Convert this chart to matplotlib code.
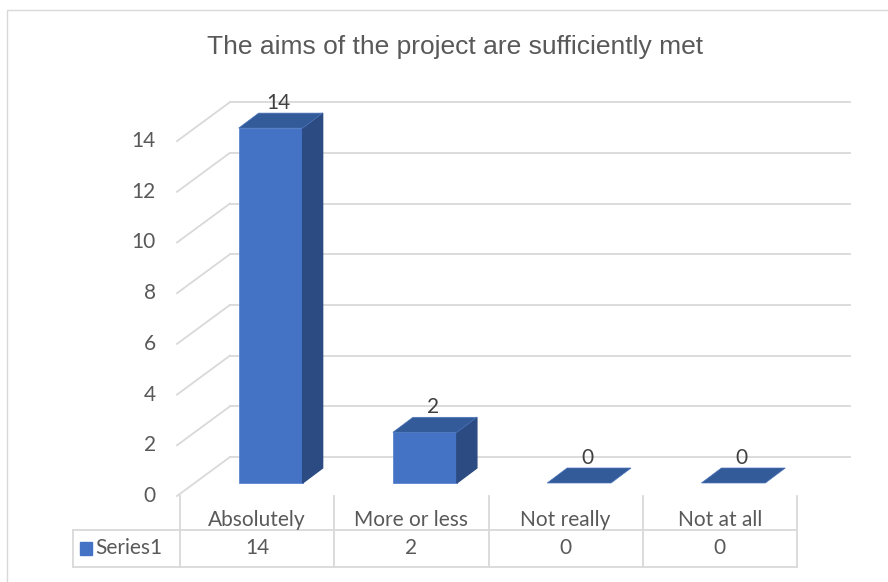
import matplotlib.pyplot as plt
from matplotlib.patches import Rectangle

# ── Data ─────────────────────────────────────────────
categories = ["Absolutely", "More or less", "Not really", "Not at all"]
values = [14, 2, 0, 0]
series_name = "Series1"
y_ticks = [0, 2, 4, 6, 8, 10, 12, 14]
title = "The aims of the project are sufficiently met"

# ── Colours / fonts ──────────────────────────────────
FRONT = "#4472C4"
TOP = "#335A99"
SIDE = "#2B4B82"
GRID = "#D9D9D9"
TXT = "#595959"
LBL = "#404040"
FONT = "Lato"
FS = 15

# ── pixel geometry of the pseudo-3D box (Excel style) ─
W, H = 888, 582
PX = 154.25          # px per category
PY = 25.35           # px per value unit
X0, Y0 = 180, 496    # front plane: left edge, value 0

def dx(p):
    return p / PX

def dy(p):
    return p / PY

WALL_DX, WALL_DY = dx(53), dy(39)     # depth of the walls
BAR_DX, BAR_DY = dx(20), dy(15)       # depth of a bar
BAR_OX, BAR_OY = dx(13.5), dy(13)     # bar front face offset from front plane
BAR_W = dx(64)

fig = plt.figure(figsize=(W / 100, H / 100), dpi=100, facecolor="white")
ax = fig.add_axes([0, 0, 1, 1])
ax.set_xlim(-0.5 - X0 / PX, -0.5 + (W - X0) / PX)
ax.set_ylim(-(H - Y0) / PY, Y0 / PY)
ax.axis("off")

n = len(categories)
left, right = -0.5, n - 0.5

# chart border
ax.add_patch(Rectangle((left - dx(X0 - 7), -(H - Y0) / PY - 1),
                       dx(W), (Y0 - 10) / PY + (H - Y0) / PY + 1,
                       fill=False, ec="#D9D9D9", lw=1, zorder=0))

# gridlines: side wall diagonals + back wall lines
for v in y_ticks:
    ax.plot([left - dx(3), left - dx(3) + WALL_DX], [v, v + WALL_DY],
            color=GRID, lw=1.3, zorder=1)
    ax.plot([left - dx(3) + WALL_DX, right + WALL_DX], [v + WALL_DY, v + WALL_DY],
            color=GRID, lw=1.3, zorder=1)
    ax.text(left - dx(24), v, str(v), ha="right", va="center",
            fontsize=FS, color=TXT, family=FONT)

# bars
for i, v in enumerate(values):
    x1 = i - BAR_W / 2 + BAR_OX
    x2 = x1 + BAR_W
    y1 = BAR_OY
    y2 = BAR_OY + v
    if v > 0:
        # front face
        ax.fill([x1, x2, x2, x1], [y1, y1, y2, y2], color=FRONT,
                ec="#5B86CF", lw=0.6, zorder=3)
        # side face
        ax.fill([x2, x2 + BAR_DX, x2 + BAR_DX, x2],
                [y1, y1 + BAR_DY, y2 + BAR_DY, y2], color=SIDE, zorder=3)
    # top face
    ax.fill([x1, x2, x2 + BAR_DX, x1 + BAR_DX],
            [y2, y2, y2 + BAR_DY, y2 + BAR_DY], color=TOP,
            ec="#4E78BE", lw=0.5, zorder=3)
    ax.text(i + BAR_OX + BAR_DX / 2 - dx(2), y2 + BAR_DY + dy(10), str(v),
            ha="center", va="center", fontsize=FS, color=LBL, family=FONT,
            zorder=4)

# data table
row1_top, row1_bot = 0, -dy(34)
row2_bot = row1_bot - dy(37)
tbl_left = left - dx(X0 - 73)
for k in range(n + 1):
    ax.plot([left + k, left + k], [row1_top, row2_bot], color=GRID,
            lw=1.3, zorder=1)
ax.plot([tbl_left, right], [row1_bot, row1_bot], color=GRID, lw=1.3)
ax.plot([tbl_left, right], [row2_bot, row2_bot], color=GRID, lw=1.3)
ax.plot([tbl_left, tbl_left], [row1_bot, row2_bot], color=GRID, lw=1.3)

for i, c in enumerate(categories):
    ax.text(i, (row1_top + row1_bot) / 2 - dy(7), c, ha="center", va="center",
            fontsize=FS, color=TXT, family=FONT)
    ax.text(i, (row1_bot + row2_bot) / 2, str(values[i]), ha="center",
            va="center", fontsize=FS, color=TXT, family=FONT)

ymid = (row1_bot + row2_bot) / 2
ax.add_patch(Rectangle((tbl_left + dx(7), ymid - dy(6.5)), dx(12), dy(13),
                       color=FRONT, zorder=3))
ax.text(tbl_left + dx(22), ymid, series_name, ha="left", va="center",
        fontsize=FS, color=TXT, family=FONT)

fig.text(455 / W, 1 - 47 / H, title, ha="center", va="center",
         fontsize=19, color=TXT, family="Liberation Sans")

fig.savefig("out.png", dpi=100, facecolor="white")
